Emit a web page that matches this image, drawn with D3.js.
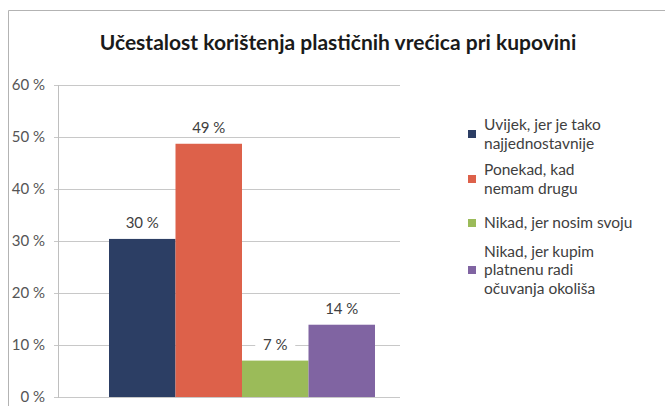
<!DOCTYPE html>
<html>
<head>
<meta charset="utf-8">
<script src="https://cdn.jsdelivr.net/npm/d3@7"></script>
<style>
  html, body { margin: 0; padding: 0; background: #fff; }
  svg { display: block; font-family: Lato, "Open Sans", sans-serif; }
</style>
</head>
<body>
<div id="chart"></div>
<script>
(function () {
  "use strict";

  const title = "Učestalost korištenja plastičnih vrećica pri kupovini";
  const seriesNames = [
    "Uvijek, jer je tako najjednostavnije",
    "Ponekad, kad nemam drugu",
    "Nikad, jer nosim svoju",
    "Nikad, jer kupim platnenu radi očuvanja okoliša"
  ];
  const legendLines = [
    ["Uvijek, jer je tako", "najjednostavnije"],
    ["Ponekad, kad", "nemam drugu"],
    ["Nikad, jer nosim svoju"],
    ["Nikad, jer kupim", "platnenu radi", "očuvanja okoliša"]
  ];
  const values = [30.4, 48.7, 7.0, 13.9];
  const colors = ["#2c3e64", "#dd614a", "#9bbb59", "#8064a2"];
  const yTicks = [0, 10, 20, 30, 40, 50, 60];

  const width = 665;
  const height = 406;
  const plot = { left: 58, right: 400, top: 85, bottom: 397 };

  const svg = d3.select("#chart")
    .append("svg")
    .attr("width", width)
    .attr("height", height);

  // outer chart frame (only top and left edges are visible)
  svg.append("path")
    .attr("d", `M8.5,${height} V10.5 H${width}`)
    .attr("fill", "none")
    .attr("stroke", "#b3b3b3")
    .attr("stroke-width", 1);

  svg.append("text")
    .attr("x", 338)
    .attr("y", 50)
    .attr("text-anchor", "middle")
    .attr("font-size", 21)
    .attr("font-weight", "bold")
    .attr("fill", "#1a1a1a")
    .text(title);

  const y = d3.scaleLinear().domain([0, 60]).range([plot.bottom, plot.top]);
  const x = d3.scaleBand()
    .domain(d3.range(values.length))
    .range([109, 375])
    .paddingInner(0);

  // gridlines
  svg.append("g")
    .selectAll("line")
    .data(yTicks)
    .join("line")
    .attr("x1", plot.left - 4)
    .attr("x2", plot.right)
    .attr("y1", (d) => Math.round(y(d)) + 0.5)
    .attr("y2", (d) => Math.round(y(d)) + 0.5)
    .attr("stroke", "#c8c8c8")
    .attr("stroke-width", 1);

  // y axis line
  svg.append("line")
    .attr("x1", plot.left + 0.5)
    .attr("x2", plot.left + 0.5)
    .attr("y1", plot.top)
    .attr("y2", plot.bottom + 1)
    .attr("stroke", "#bfbfbf");

  svg.append("g")
    .selectAll("text")
    .data(yTicks)
    .join("text")
    .attr("x", 45)
    .attr("y", (d) => y(d))
    .attr("dy", "0.35em")
    .attr("text-anchor", "end")
    .attr("font-size", 15)
    .attr("fill", "#555")
    .text((d) => d + " %");

  // bars
  svg.append("g")
    .selectAll("rect")
    .data(values)
    .join("rect")
    .attr("x", (d, i) => x(i))
    .attr("width", x.bandwidth())
    .attr("y", (d) => y(d))
    .attr("height", (d) => y(0) - y(d))
    .attr("fill", (d, i) => colors[i]);

  // value labels with white backing
  const labels = svg.append("g")
    .selectAll("g")
    .data(values)
    .join("g")
    .attr("transform", (d, i) => `translate(${x(i) + x.bandwidth() / 2},${y(d) - 11})`);

  labels.append("rect")
    .attr("x", -20)
    .attr("y", -13)
    .attr("width", 40)
    .attr("height", 17)
    .attr("fill", "#fff");

  labels.append("text")
    .attr("text-anchor", "middle")
    .attr("font-size", 15)
    .attr("fill", "#404040")
    .text((d) => Math.round(d) + " %");

  // legend
  const legendTop = [134, 179, 223, 270];
  const lineH = 18.5;
  const legend = svg.append("g")
    .selectAll("g")
    .data(seriesNames)
    .join("g")
    .attr("transform", (d, i) => `translate(468,${legendTop[i]})`);

  legend.append("rect")
    .attr("x", 0)
    .attr("y", -4)
    .attr("width", 8)
    .attr("height", 8)
    .attr("fill", (d, i) => colors[i]);

  legend.append("text")
    .attr("font-size", 15.5)
    .attr("fill", "#404040")
    .each(function (d, i) {
      const lines = legendLines[i];
      const start = -((lines.length - 1) * lineH) / 2;
      d3.select(this)
        .selectAll("tspan")
        .data(lines)
        .join("tspan")
        .attr("x", 16)
        .attr("y", (l, j) => start + j * lineH)
        .attr("dy", "0.35em")
        .text((l) => l);
    });
})();
</script>
</body>
</html>
